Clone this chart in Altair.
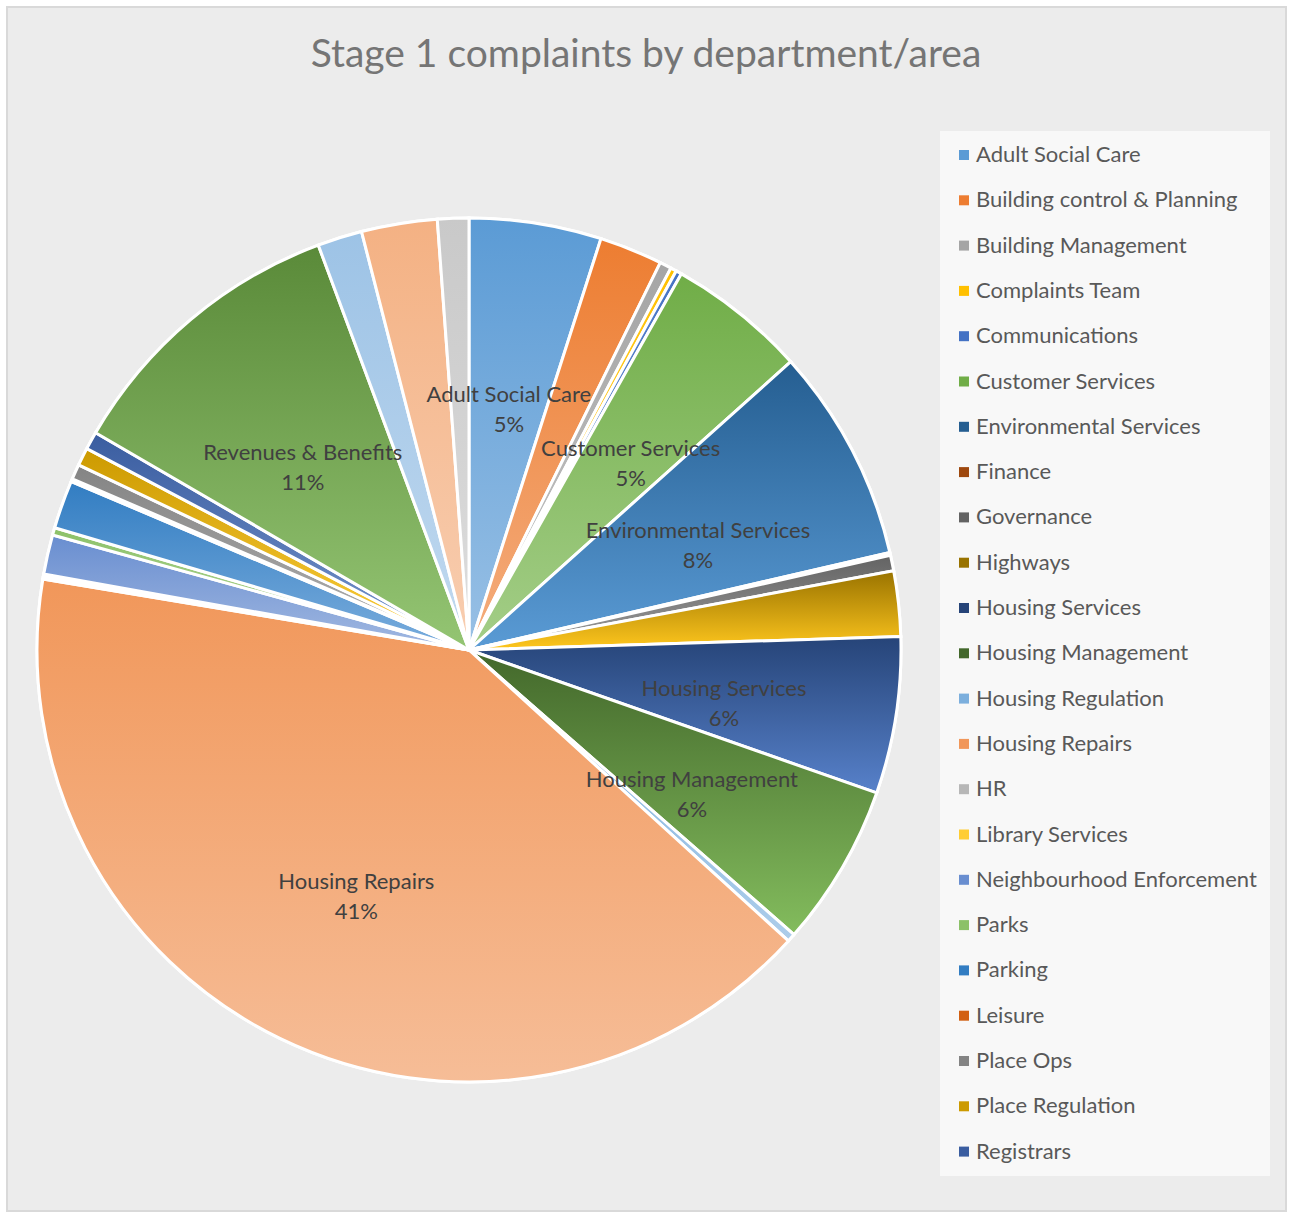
import colorsys
import altair as alt

title_text = "Stage 1 complaints by department/area"

names = [
    "Adult Social Care", "Building control & Planning", "Building Management",
    "Complaints Team", "Communications", "Customer Services",
    "Environmental Services", "Finance", "Governance", "Highways",
    "Housing Services", "Housing Management", "Housing Regulation",
    "Housing Repairs", "HR", "Library Services", "Neighbourhood Enforcement",
    "Parks", "Parking", "Leisure", "Place Ops", "Place Regulation",
    "Registrars", "Revenues & Benefits", "Strategy & Policy",
    "Housing Allocations", "Other",
]
# share of complaints, %
values = [
    4.94, 2.36, 0.44, 0.22, 0.22, 5.19, 8.00, 0.11, 0.58, 2.44,
    5.86, 6.08, 0.31, 40.86, 0.11, 0.08, 1.47, 0.28, 1.81, 0.11,
    0.56, 0.67, 0.67, 10.94, 1.67, 2.83, 1.17,
]
colors = [
    "#5B9BD5", "#ED7D31", "#A5A5A5", "#FFC000", "#4472C4", "#70AD47",
    "#255E91", "#9E480E", "#636363", "#997300", "#264478", "#43682B",
    "#7CAFDD", "#F1975A", "#B7B7B7", "#FFCD33", "#698ED0", "#8CC168",
    "#327DC2", "#D26012", "#848484", "#CC9A00", "#3A5DA0", "#5A8A39",
    "#9DC3E6", "#F4B183", "#C9C9C9",
]
legend_count = 23


def lighten(hex_color, k=0.37):
    r = int(hex_color[1:3], 16) / 255
    g = int(hex_color[3:5], 16) / 255
    b = int(hex_color[5:7], 16) / 255
    h, l, s = colorsys.rgb_to_hls(r, g, b)
    l2 = l + (1 - l) * k
    r2, g2, b2 = colorsys.hls_to_rgb(h, l2, s)
    return "#%02x%02x%02x" % (round(r2 * 255), round(g2 * 255), round(b2 * 255))


rows = []
for i, (n, v, c) in enumerate(zip(names, values, colors)):
    rows.append({
        "idx": i,
        "dept": n,
        "value": v,
        "grad": {
            "gradient": "linear",
            "x1": 0, "y1": 0, "x2": 0, "y2": 1,
            "stops": [
                {"offset": 0, "color": c},
                {"offset": 1, "color": lighten(c)},
            ],
        },
    })
data = alt.Data(values=rows)

CX, CY, R = 469, 650, 432
FONT = "Lato"

background = alt.Chart(alt.Data(values=[{"k": 1}])).mark_rect(
    fill="#ECECEC", stroke="#D9D9D9", strokeWidth=2
).encode(
    x=alt.value(7), x2=alt.value(1286), y=alt.value(7), y2=alt.value(1211)
)

title = alt.Chart(alt.Data(values=[{"t": title_text}])).mark_text(
    font=FONT, fontSize=39, color="#757575", align="center", baseline="middle"
).encode(text="t:N", x=alt.value(646), y=alt.value(55))

theta = alt.Theta("value:Q", stack=True)
order = alt.Order("idx:Q", sort="ascending")

base_arc = alt.Chart(data).mark_arc(
    radius=R, stroke="white", strokeWidth=3
).encode(
    theta=theta,
    order=order,
    x=alt.value(CX),
    y=alt.value(CY),
    color=alt.Color(
        "dept:N",
        scale=alt.Scale(domain=names, range=colors),
        sort=names,
        legend=alt.Legend(
            title=None,
            orient="none",
            direction="vertical",
            legendX=940,
            legendY=131,
            values=names[:legend_count],
            symbolType="square",
            symbolSize=100,
            symbolStrokeWidth=0,
            labelFont=FONT,
            labelFontSize=22,
            labelColor="#595959",
            labelLimit=400,
            labelOffset=1,
            rowPadding=23.3,
            padding=13,
            fillColor="#F8F8F8",
        ),
    ),
)

grad_arc = alt.Chart(data).mark_arc(
    radius=R, stroke="white", strokeWidth=3
).encode(
    theta=theta,
    order=order,
    detail="dept:N",
    x=alt.value(CX),
    y=alt.value(CY),
    fill=alt.Fill("grad:N", scale=None, legend=None),
)

labels = alt.Chart(data).transform_joinaggregate(
    total="sum(value)"
).transform_calculate(
    pct="datum.value / datum.total * 100"
).transform_calculate(
    label="datum.pct >= 4.5 ? datum.dept + '\\n' + format(datum.pct, '.0f') + '%' : ''"
).mark_text(
    radius=258, font=FONT, fontSize=22, lineHeight=30, color="#404040",
    align="center", baseline="middle", lineBreak="\n"
).encode(
    theta=theta,
    order=order,
    detail="dept:N",
    text="label:N",
    x=alt.value(CX),
    y=alt.value(CY),
)

chart = alt.layer(background, title, base_arc, grad_arc, labels).properties(
    width=1292, height=1217,
    autosize=alt.AutoSizeParams(type="none"),
    padding=0,
    background="white",
).configure_view(stroke=None)

chart.save("out.html", embed_options={"renderer": "svg", "actions": False})
